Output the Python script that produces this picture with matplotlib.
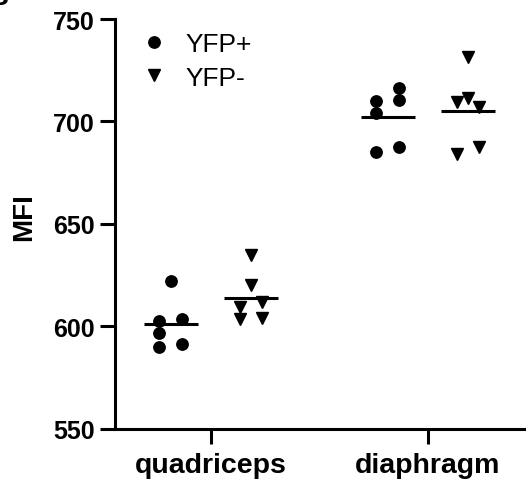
import numpy as np
import matplotlib
matplotlib.use("Agg")
import matplotlib.pyplot as plt
from matplotlib.lines import Line2D

plt.rcParams['font.family'] = ['Liberation Sans', 'DejaVu Sans']

# MFI values per muscle
muscles = ["quadriceps", "diaphragm"]
yfp_pos = [
    [622.4, 602.9, 603.7, 597.0, 589.8, 591.5],
    [716.4, 710.6, 687.7, 710.0, 704.0, 685.0],
]
yfp_neg = [
    [635.0, 620.0, 609.4, 611.8, 603.5, 604.0],
    [731.5, 709.6, 711.5, 707.0, 687.7, 684.3],
]

# column within each scatter cloud (-1 left, 0 centre, 1 right)
pos_cols = [[0, -1, 1, -1, -1, 1], [1, 1, 1, -1, -1, -1]]
neg_cols = [[0, 0, -1, 1, -1, 1], [0, -1, 0, 1, 1, -1]]

group_shift = 0.185
col_step = 0.052
mean_half = 0.125
lw = 2.2

fig = plt.figure(figsize=(5.26, 4.89), dpi=100)
ax = fig.add_axes([0.2186, 0.1207, 0.779, 0.8384])

for i, name in enumerate(muscles):
    for vals, cols, sign, mk in [(yfp_pos[i], pos_cols[i], -1, 'o'),
                                 (yfp_neg[i], neg_cols[i], 1, 'v')]:
        xc = i + sign * group_shift
        xs = xc + np.array(cols) * col_step
        ax.plot(xs, vals, linestyle='none', marker=mk, color='black',
                markersize=8.2 if mk == 'o' else 9, clip_on=False)
        m = np.mean(vals)
        ax.plot([xc - mean_half, xc + mean_half], [m, m], color='black',
                lw=lw, solid_capstyle='butt')

ax.set_xlim(-0.442, 1.447)
ax.set_ylim(550, 750)
ax.set_yticks([550, 600, 650, 700, 750])
ax.set_xticks(range(len(muscles)))
ax.set_xticklabels(muscles, fontsize=20.5, fontweight='bold')
ax.set_ylabel("MFI", fontsize=20, fontweight='bold', labelpad=12)
ax.yaxis.label.set_y(0.52)

for lab in ax.get_yticklabels():
    lab.set_fontsize(18)
    lab.set_fontweight('bold')

ax.spines['top'].set_visible(False)
ax.spines['right'].set_visible(False)
for s in ['left', 'bottom']:
    ax.spines[s].set_linewidth(lw)
ax.tick_params(axis='both', width=lw, length=10.8, color='black')
ax.tick_params(axis='y', pad=3.5)
ax.tick_params(axis='x', pad=6)

handles = [
    Line2D([], [], linestyle='none', marker='o', color='black', markersize=8.2),
    Line2D([], [], linestyle='none', marker='v', color='black', markersize=9),
]
ax.legend(handles, ["YFP+", "YFP-"], loc='upper left', frameon=False,
          fontsize=19, bbox_to_anchor=(0.03, 0.993), handletextpad=0.6,
          labelspacing=0.35, handlelength=1.2, borderaxespad=0)

fig.text(8 / 526, 1 - 11 / 489, "B", ha='right', va='bottom',
         fontsize=20, fontweight='bold')

fig.savefig("out.png", dpi=100)
